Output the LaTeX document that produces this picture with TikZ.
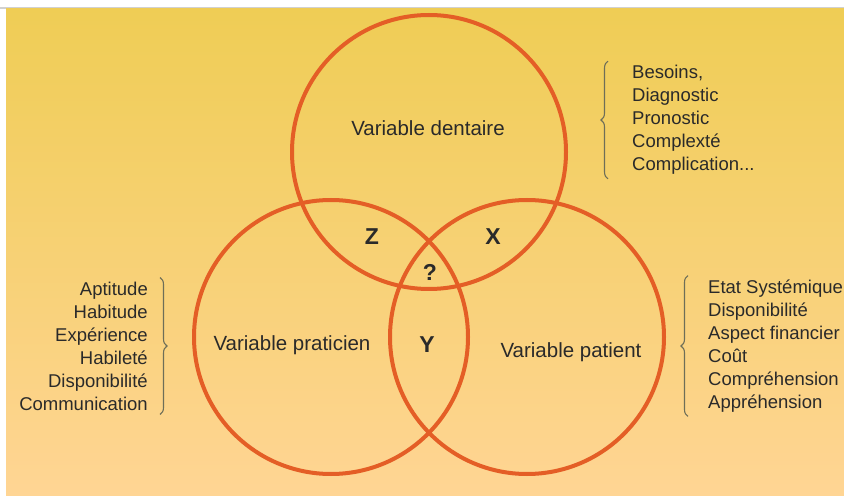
\documentclass[tikz,border=0pt]{standalone}
\usepackage{fontspec}
\setmainfont{Liberation Sans}
\usepackage{tikz}
\usetikzlibrary{decorations.pathreplacing}
\definecolor{ring}{RGB}{228,94,38}
\definecolor{ink}{HTML}{2A2A2A}
\definecolor{bracec}{HTML}{6E6E58}
\definecolor{bgtop}{HTML}{EFCD55}
\definecolor{bgmid}{HTML}{F9D471}
\definecolor{bgbot}{HTML}{FFD594}

\begin{document}
\begin{tikzpicture}[x=1pt,y=-1pt,
    venn/.style={circle,draw=ring,line width=4pt,minimum size=274pt,inner sep=0pt},
    title/.style={text=ink,font=\fontsize{20.5}{24}\selectfont,inner sep=0pt},
    zone/.style={text=ink,font=\fontsize{23}{24}\selectfont\bfseries,inner sep=0pt},
    list/.style={text=ink,font=\fontsize{18.5}{23}\selectfont,inner sep=0pt},
    brace/.style={draw=bracec,line width=1.1pt,decorate,decoration={brace,amplitude=7pt}}]
  \useasboundingbox (0,0) rectangle (844,497);
  \fill[white] (0,0) rectangle (844,497);
  \fill[black!18] (0,7) rectangle (844,9);
  \shade[top color=bgtop,middle color=bgmid,bottom color=bgbot] (6,9) rectangle (844,495);

  \path
  (429,152) node[venn](dent) {}
  (331,337) node[venn](prat) {}
  (527,337) node[venn](pat) {}
  ;

  \path
  (428,128) node[title](dentl) {Variable dentaire}
  (292,345) node[title](pratl) {Variable praticien}
  (571,352) node[title](patl) {Variable patient}
  (372,237) node[zone](z) {Z}
  (493,237) node[zone](x) {X}
  (430,272) node[zone](q) {?}
  (427,345) node[zone](y) {Y}
  ;

  \path
  (632,120) node[list,anchor=west,align=left](dentlist)
    {Besoins,\\Diagnostic\\Pronostic\\Complexté\\Complication...}
  (148,346) node[list,anchor=east,align=right](pratlist)
    {Aptitude\\Habitude\\Expérience\\Habileté\\Disponibilité\\Communication}
  (708,346) node[list,anchor=west,align=left](patlist)
    {Etat Systémique\\Disponibilité\\Aspect financier\\Coût\\Compréhension\\Appréhension}
  ;

  \draw[brace] ([xshift=-24pt,yshift=-4pt]dentlist.south west) -- ([xshift=-24pt,yshift=4pt]dentlist.north west);
  \draw[brace] ([xshift=12pt,yshift=4pt]pratlist.north east) -- ([xshift=12pt,yshift=-4pt]pratlist.south east);
  \draw[brace] ([xshift=-20pt,yshift=-4pt]patlist.south west) -- ([xshift=-20pt,yshift=4pt]patlist.north west);
\end{tikzpicture}
\end{document}
